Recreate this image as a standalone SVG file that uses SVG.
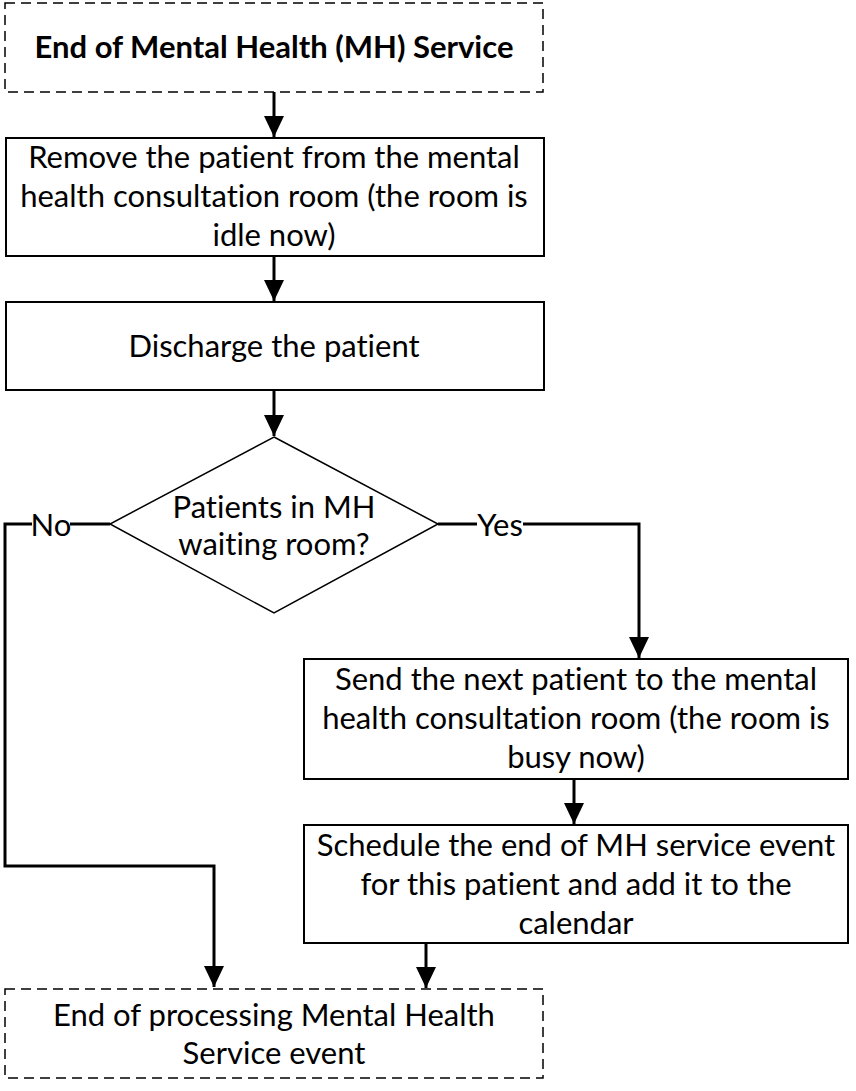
<svg xmlns="http://www.w3.org/2000/svg" width="856" height="1091" viewBox="0 0 856 1091">
<style>
.box{fill:#fff;stroke:#000;stroke-width:2}
.dash{fill:#fff;stroke:#000;stroke-width:1.5;stroke-dasharray:10 6}
.t{font-family:Lato,"Liberation Sans",sans-serif;font-size:31px;fill:#000;text-anchor:middle;font-variant-ligatures:none}
.b{font-weight:bold}
.c{fill:none;stroke:#000;stroke-width:3}
</style>
<defs>
<marker id="ah" markerUnits="userSpaceOnUse" markerWidth="21" markerHeight="20" refX="21" refY="10" orient="auto">
<path d="M0,0 L21,10 L0,20 Z" fill="#000"/>
</marker>
</defs>
<g id="connectors">
<path class="c" d="M274,92 V137" marker-end="url(#ah)"/>
<path class="c" d="M274,256 V301" marker-end="url(#ah)"/>
<path class="c" d="M274,390 V436" marker-end="url(#ah)"/>
<path class="c" d="M110,524 H5 V866 H214 V987" marker-end="url(#ah)"/>
<path class="c" d="M438,524 H639 V658" marker-end="url(#ah)"/>
<path class="c" d="M574,779 V824" marker-end="url(#ah)"/>
<path class="c" d="M426,943 V988" marker-end="url(#ah)"/>
<rect x="32" y="510" width="38" height="28" fill="#fff"/>
<rect x="477" y="510" width="46" height="28" fill="#fff"/>
<text class="t" x="51" y="536">No</text>
<text class="t" x="500" y="536">Yes</text>
</g>
<g id="start">
<rect class="dash" x="5" y="3" width="538" height="89"/>
<text class="t b" x="274" y="58">End of Mental Health (MH) Service</text>
</g>
<g id="remove">
<rect class="box" x="6" y="138" width="538" height="118"/>
<text class="t" x="274" y="168">Remove the patient from the mental</text>
<text class="t" x="274" y="207">health consultation room (the room is</text>
<text class="t" x="274" y="246">idle now)</text>
</g>
<g id="discharge">
<rect class="box" x="6" y="302" width="538" height="88"/>
<text class="t" x="274" y="357">Discharge the patient</text>
</g>
<g id="decision">
<polygon points="274,437 438,524 274,613 110,524" fill="#fff" stroke="#000" stroke-width="1.5"/>
<text class="t" x="274" y="518">Patients in MH</text>
<text class="t" x="274" y="555">waiting room?</text>
</g>
<g id="send">
<rect class="box" x="304" y="659" width="544" height="120"/>
<text class="t" x="576" y="690">Send the next patient to the mental</text>
<text class="t" x="576" y="729">health consultation room (the room is</text>
<text class="t" x="576" y="768">busy now)</text>
</g>
<g id="schedule">
<rect class="box" x="304" y="825" width="544" height="118"/>
<text class="t" x="576" y="856">Schedule the end of MH service event</text>
<text class="t" x="576" y="895">for this patient and add it to the</text>
<text class="t" x="576" y="934">calendar</text>
</g>
<g id="end">
<rect class="dash" x="5" y="989" width="538" height="89"/>
<text class="t" x="274" y="1026">End of processing Mental Health</text>
<text class="t" x="274" y="1064">Service event</text>
</g>
</svg>
